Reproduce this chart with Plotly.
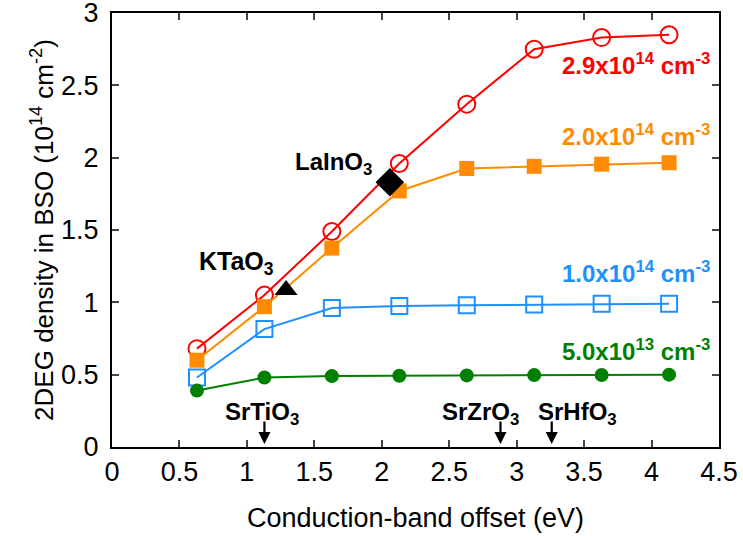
import plotly.graph_objects as go

x_offsets = [0.63, 1.13, 1.63, 2.13, 2.63, 3.13, 3.63, 4.13]
red_vals = [0.68, 1.05, 1.49, 1.96, 2.37, 2.75, 2.83, 2.85]
orange_vals = [0.60, 0.97, 1.375, 1.77, 1.925, 1.94, 1.955, 1.965]
blue_vals = [0.48, 0.815, 0.96, 0.975, 0.98, 0.985, 0.99, 0.99]
green_vals = [0.39, 0.48, 0.49, 0.492, 0.495, 0.497, 0.498, 0.5]

series_labels = ["2.9x10<sup>14</sup> cm<sup>-3</sup>", "2.0x10<sup>14</sup> cm<sup>-3</sup>",
                 "1.0x10<sup>14</sup> cm<sup>-3</sup>", "5.0x10<sup>13</sup> cm<sup>-3</sup>"]
label_y = [2.65, 2.16, 1.21, 0.67]

ktao3 = (1.29, 1.085)
lainos = (2.06, 1.83)
arrows_x = [1.13, 2.88, 3.26]
arrow_names = ["SrTiO<sub>3</sub>", "SrZrO<sub>3</sub>", "SrHfO<sub>3</sub>"]
arrow_label_x = [1.11, 2.73, 3.45]

RED = "rgb(255,0,0)"
ORANGE = "rgb(255,140,0)"
BLUE = "rgb(30,144,255)"
GREEN = "rgb(0,128,0)"
FONT = "Liberation Sans, Arial, Helvetica, sans-serif"
LBL = 24

fig = go.Figure()
fig.add_trace(go.Scatter(x=x_offsets, y=red_vals, mode="lines+markers",
                         line=dict(color=RED, width=2),
                         marker=dict(symbol="circle-open", size=17, color=RED, line=dict(width=2))))
fig.add_trace(go.Scatter(x=x_offsets, y=orange_vals, mode="lines+markers",
                         line=dict(color=ORANGE, width=2),
                         marker=dict(symbol="square", size=15, color=ORANGE)))
fig.add_trace(go.Scatter(x=x_offsets, y=blue_vals, mode="lines+markers",
                         line=dict(color=BLUE, width=2),
                         marker=dict(symbol="square-open", size=16, color=BLUE, line=dict(width=2))))
fig.add_trace(go.Scatter(x=x_offsets, y=green_vals, mode="lines+markers",
                         line=dict(color=GREEN, width=2),
                         marker=dict(symbol="circle", size=14, color=GREEN)))
fig.add_trace(go.Scatter(x=[ktao3[0]], y=[ktao3[1]], mode="markers",
                         marker=dict(symbol="triangle-up", size=20, color="black")))
fig.add_trace(go.Scatter(x=[lainos[0]], y=[lainos[1]], mode="markers",
                         marker=dict(symbol="diamond", size=22, color="black")))

annotations = []
for lab, ly, col in zip(series_labels, label_y, [RED, ORANGE, BLUE, GREEN]):
    annotations.append(dict(x=4.45, y=ly, xref="x", yref="y", text="<b>" + lab + "</b>",
                            showarrow=False, xanchor="right", yanchor="middle",
                            font=dict(family=FONT, size=LBL, color=col)))
annotations.append(dict(x=1.645, y=1.96, text="<b>LaInO<sub>3</sub></b>", showarrow=False,
                        xanchor="center", yanchor="middle", font=dict(family=FONT, size=LBL, color="black")))
annotations.append(dict(x=0.92, y=1.27, text="<b>KTaO<sub>3</sub></b>", showarrow=False,
                        xanchor="center", yanchor="middle", font=dict(family=FONT, size=25, color="black")))
for ax_, lx, nm in zip(arrows_x, arrow_label_x, arrow_names):
    annotations.append(dict(x=ax_, y=0.02, ax=0, ay=-24, xref="x", yref="y", text="",
                            showarrow=True, arrowhead=2, arrowsize=1.1, arrowwidth=2.2, arrowcolor="black"))
    annotations.append(dict(x=lx, y=0.23, text="<b>" + nm + "</b>", showarrow=False,
                            xanchor="center", yanchor="middle",
                            font=dict(family=FONT, size=LBL, color="black")))

fig.update_layout(
    width=743, height=536,
    margin=dict(l=112, r=24, t=13, b=89),
    plot_bgcolor="white", paper_bgcolor="white",
    showlegend=False,
    font=dict(family=FONT, size=26, color="black"),
    annotations=annotations,
    xaxis=dict(range=[0, 4.5], tick0=0, dtick=0.5, ticks="inside", ticklen=7, tickwidth=1.5,
               showline=True, linecolor="black", linewidth=2, mirror="ticks", showgrid=False,
               zeroline=False, automargin=False, ticklabeloverflow="allow",
               title=dict(text="Conduction-band offset (eV)", font=dict(size=27), standoff=22),
               tickfont=dict(size=27)),
    yaxis=dict(range=[0, 3], tick0=0, dtick=0.5, ticks="inside", ticklen=7, tickwidth=1.5,
               showline=True, linecolor="black", linewidth=2, mirror="ticks", showgrid=False,
               zeroline=False, automargin=False, ticklabeloverflow="allow", ticklabelstandoff=6,
               title=dict(text="2DEG density in BSO (10<sup>14</sup> cm<sup>-2</sup>)",
                          font=dict(size=26), standoff=0),
               tickfont=dict(size=27)),
)

fig.write_html("out.html")
